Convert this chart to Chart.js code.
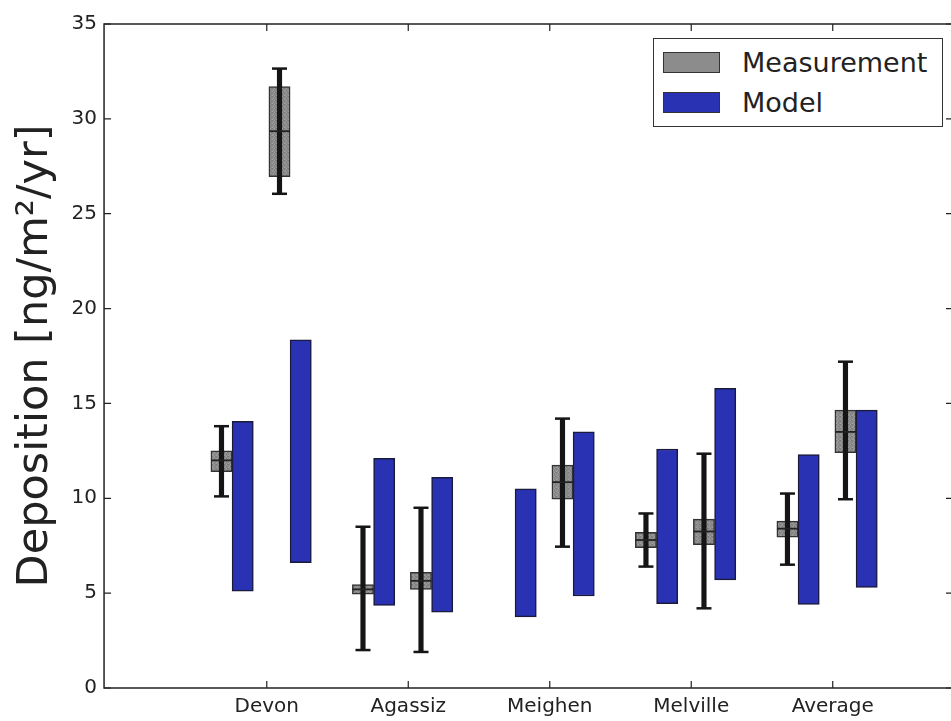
<!DOCTYPE html>
<html>
<head>
<meta charset="utf-8">
<script src="https://cdn.jsdelivr.net/npm/chart.js@4/dist/chart.umd.min.js"></script>
<style>
  html, body { margin: 0; padding: 0; background: #fff; overflow: hidden; }
  #wrap { position: relative; width: 951px; height: 721px; overflow: hidden; }
  #legend {
    position: absolute; left: 653px; top: 38px; width: 288px; height: 87px;
    border: 1.5px solid #333; background: #fff;
    font-family: 'DejaVu Sans', sans-serif; font-size: 27px; color: #222;
  }
  .row { position: absolute; left: 9px; height: 30px; display: flex; align-items: center; }
  .sw { width: 55px; height: 19px; border: 1.5px solid #333; margin-right: 22px; }
</style>
</head>
<body>
<div id="wrap">
  <canvas id="depositionChart" width="960" height="728"></canvas>
  <div id="legend">
    <div class="row" style="top:8px"><div class="sw" id="swMeas"></div>Measurement</div>
    <div class="row" style="top:48px"><div class="sw" style="background:#2a32b4"></div>Model</div>
  </div>
</div>
<script>
const sites = ['Devon', 'Agassiz', 'Meighen', 'Melville', 'Average'];

// first measurement / model pair per site
const measA_low  = [10.1, 2.0, null, 6.4, 6.5];
const measA_q1   = [11.4, 4.95, null, 7.4, 7.95];
const measA_med  = [12.0, 5.2, null, 7.8, 8.4];
const measA_q3   = [12.5, 5.45, null, 8.2, 8.8];
const measA_high = [13.8, 8.5, null, 9.2, 10.25];
const modelA_low  = [5.1, 4.35, 3.75, 4.45, 4.4];
const modelA_high = [14.05, 12.1, 10.5, 12.6, 12.3];

// second measurement / model pair per site
const measB_low  = [26.05, 1.9, 7.45, 4.2, 9.95];
const measB_q1   = [26.95, 5.2, 9.95, 7.55, 12.4];
const measB_med  = [29.35, 5.65, 10.85, 8.25, 13.5];
const measB_q3   = [31.7, 6.1, 11.75, 8.9, 14.65];
const measB_high = [32.65, 9.5, 14.2, 12.35, 17.2];
const modelB_low  = [6.6, 4.0, 4.85, 5.7, 5.3];
const modelB_high = [18.35, 11.1, 13.5, 15.8, 14.65];

const yTicks = [0, 5, 10, 15, 20, 25, 30, 35];

// bar offsets from the site position
const offMeasA = -0.32, offModelA = -0.17, offMeasB = 0.09, offModelB = 0.24;

function ranges(lo, hi, off) {
    const out = [];
    sites.forEach(function(s, i) {
        if (lo[i] !== null) out.push({ x: i + off, y: [lo[i], hi[i]] });
    });
    return out;
}
function points(vals, off) {
    const out = [];
    sites.forEach(function(s, i) {
        if (vals[i] !== null) out.push({ x: i + off, y: vals[i] });
    });
    return out;
}

// speckled grey like the reference
const pc = document.createElement('canvas');
pc.width = 4; pc.height = 4;
const px = pc.getContext('2d');
px.fillStyle = '#8c8c8c'; px.fillRect(0, 0, 4, 4);
px.fillStyle = '#7a7a7a'; px.fillRect(0, 0, 1, 1); px.fillRect(2, 2, 1, 1); px.fillRect(3, 0, 1, 1);
px.fillStyle = '#a0a0a0'; px.fillRect(1, 2, 1, 1); px.fillRect(2, 0, 1, 1); px.fillRect(0, 3, 1, 1);
const ctx = document.getElementById('depositionChart').getContext('2d');
const grey = ctx.createPattern(pc, 'repeat');
document.getElementById('swMeas').style.background = '#8c8c8c';

const frame = {
    id: 'frame',
    afterDraw(chart) {
        const a = chart.chartArea, c = chart.ctx;
        const xs = chart.scales.x, ys = chart.scales.y;
        c.save();
        c.strokeStyle = '#222';
        c.lineWidth = 1.5;
        c.strokeRect(a.left, a.top, a.right - a.left, a.bottom - a.top);
        c.lineWidth = 1.2;
        c.beginPath();
        xs.ticks.forEach(function(t) {
            const p = xs.getPixelForValue(t.value);
            c.moveTo(p, a.bottom); c.lineTo(p, a.bottom - 7);
            c.moveTo(p, a.top); c.lineTo(p, a.top + 7);
        });
        ys.ticks.forEach(function(t) {
            const p = ys.getPixelForValue(t.value);
            c.moveTo(a.left, p); c.lineTo(a.left + 7, p);
            c.moveTo(a.right, p); c.lineTo(a.right - 7, p);
        });
        c.stroke();
        c.restore();
    }
};

const boxStyle = { type: 'bar', backgroundColor: grey, borderColor: '#333', borderWidth: 1.5, borderSkipped: false, grouped: false, order: 4 };
const modelStyle = { type: 'bar', backgroundColor: '#2a32b4', borderColor: '#1a1a3a', borderWidth: 1.5, borderSkipped: false, grouped: false, order: 5 };
const whiskerStyle = { type: 'bar', backgroundColor: '#151515', borderWidth: 0, barThickness: 4.5, grouped: false, order: 3 };
const capStyle = { type: 'scatter', pointStyle: 'line', pointRadius: 7.5, borderColor: '#151515', borderWidth: 2.5, order: 1 };
const medStyle = { type: 'scatter', pointStyle: 'line', pointRadius: 10.5, borderColor: '#222', borderWidth: 1.8, order: 2 };

new Chart(ctx, {
    type: 'bar',
    data: {
        datasets: [
            Object.assign({ label: 'Model', data: ranges(modelA_low, modelA_high, offModelA) }, modelStyle),
            Object.assign({ label: 'Model', data: ranges(modelB_low, modelB_high, offModelB) }, modelStyle),
            Object.assign({ label: 'Measurement', data: ranges(measA_q1, measA_q3, offMeasA) }, boxStyle),
            Object.assign({ label: 'Measurement', data: ranges(measB_q1, measB_q3, offMeasB) }, boxStyle),
            Object.assign({ label: 'whisker', data: ranges(measA_low, measA_high, offMeasA) }, whiskerStyle),
            Object.assign({ label: 'whisker', data: ranges(measB_low, measB_high, offMeasB) }, whiskerStyle),
            Object.assign({ label: 'cap', data: points(measA_low, offMeasA).concat(points(measA_high, offMeasA)) }, capStyle),
            Object.assign({ label: 'cap', data: points(measB_low, offMeasB).concat(points(measB_high, offMeasB)) }, capStyle),
            Object.assign({ label: 'median', data: points(measA_med, offMeasA) }, medStyle),
            Object.assign({ label: 'median', data: points(measB_med, offMeasB) }, medStyle)
        ]
    },
    options: {
        responsive: false,
        animation: false,
        datasets: { bar: { categoryPercentage: 1, barPercentage: 1 } },
        layout: { autoPadding: false, padding: { left: 10, top: 24, right: 7, bottom: 2 } },
        plugins: { legend: { display: false }, tooltip: { enabled: false } },
        scales: {
            x: {
                type: 'linear',
                offset: false,
                min: -1.15,
                max: 4.85,
                grid: { display: false, drawTicks: false },
                border: { display: false },
                afterBuildTicks: function(scale) {
                    scale.ticks = sites.map(function(s, i) { return { value: i }; });
                },
                ticks: {
                    padding: 7,
                    color: '#222',
                    font: { family: 'DejaVu Sans', size: 20 },
                    callback: function(v) { return sites[v]; }
                }
            },
            y: {
                min: 0,
                max: 35,
                grid: { display: false, drawTicks: false },
                border: { display: false },
                afterBuildTicks: function(scale) {
                    scale.ticks = yTicks.map(function(v) { return { value: v }; });
                },
                ticks: {
                    padding: 7,
                    color: '#222',
                    font: { family: 'DejaVu Sans', size: 20 }
                },
                title: {
                    display: true,
                    text: 'Deposition [ng/m²/yr]',
                    color: '#222',
                    font: { family: 'DejaVu Sans', size: 43 },
                    padding: { top: 0, bottom: 3 }
                }
            }
        }
    },
    plugins: [frame]
});
</script>
</body>
</html>
